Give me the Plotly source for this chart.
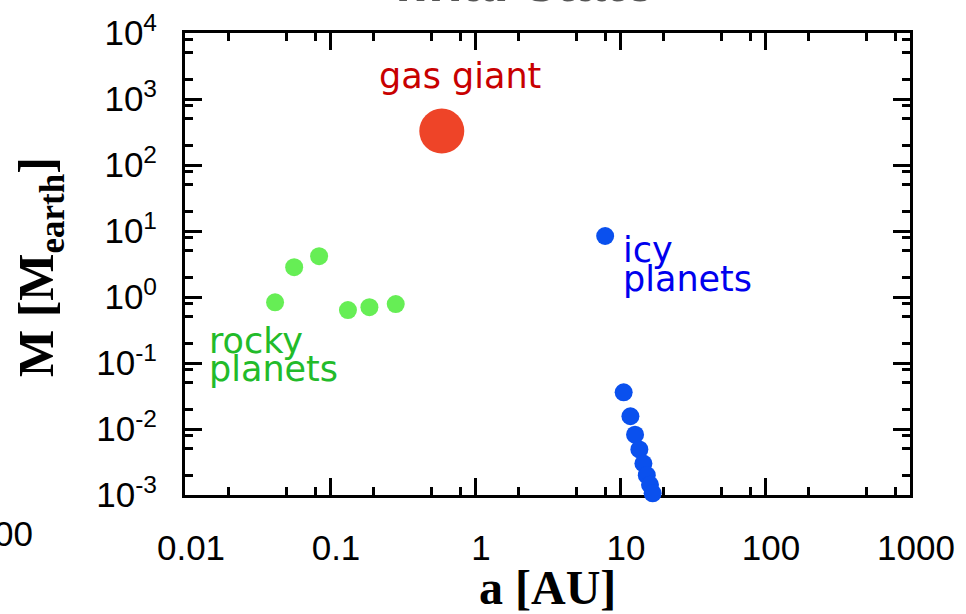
import plotly.graph_objects as go

# ---- data ----
gas_a = [0.59]
gas_m = [327]

rocky_a = [0.0418, 0.0566, 0.0841, 0.133, 0.187, 0.284]
rocky_m = [0.83, 2.83, 4.16, 0.634, 0.70, 0.78]

icy_a = [7.9, 10.6, 11.8, 12.7, 13.6, 14.5, 15.3, 16.1, 16.8]
icy_m = [8.4, 0.036, 0.0156, 0.0082, 0.0049, 0.0030, 0.0020, 0.00143, 0.00106]

x_ticks = [0.01, 0.1, 1, 10, 100, 1000]
x_ticktext = ["0.01", "0.1", "1", "10", "100", "1000"]
y_ticks = [1e-3, 1e-2, 1e-1, 1, 10, 100, 1000, 1e4]
y_ticktext = ["10<sup>-3</sup>", "10<sup>-2</sup>", "10<sup>-1</sup>", "10<sup>0</sup>",
              "10<sup>1</sup>", "10<sup>2</sup>", "10<sup>3</sup>", "10<sup>4</sup>"]
minor_mult = [2, 5, 8]
x_minor = [m * d for d in [0.01, 0.1, 1, 10, 100] for m in minor_mult]
y_minor = [m * d for d in [1e-3, 1e-2, 1e-1, 1, 10, 100, 1000] for m in minor_mult]

fig = go.Figure()
fig.add_trace(go.Scatter(x=rocky_a, y=rocky_m, mode="markers",
                         marker=dict(size=18, color="#66ee55", line=dict(width=0)),
                         cliponaxis=False, showlegend=False))
fig.add_trace(go.Scatter(x=icy_a, y=icy_m, mode="markers",
                         marker=dict(size=18, color="#0a50ee", line=dict(width=0)),
                         cliponaxis=False, showlegend=False))
fig.add_trace(go.Scatter(x=gas_a, y=gas_m, mode="markers",
                         marker=dict(size=45, color="#ee4428", line=dict(width=0)),
                         cliponaxis=False, showlegend=False))

axis_common = dict(
    type="log", showgrid=False, zeroline=False,
    showline=True, linecolor="black", linewidth=3, mirror="allticks",
    ticks="inside", ticklen=17, tickwidth=3, tickcolor="black",
    tickfont=dict(family="Liberation Sans", size=35, color="black"),
    layer="below traces",
)

fig.update_xaxes(**axis_common, range=[-2, 3], tickmode="array",
                 tickvals=x_ticks, ticktext=x_ticktext,
                 ticklabelstandoff=20, ticklabelshift=6,
                 minor=dict(tickmode="array", tickvals=x_minor, ticks="inside",
                            ticklen=8, tickwidth=3, tickcolor="black"))
fig.update_yaxes(**axis_common, range=[-3, 4], tickmode="array",
                 tickvals=y_ticks, ticktext=y_ticktext,
                 ticklabelstandoff=18,
                 minor=dict(tickmode="array", tickvals=y_minor, ticks="inside",
                            ticklen=8, tickwidth=3, tickcolor="black"))

W, H = 966, 614
L, R, T, B = 185, 56, 33, 119
pw, ph = W - L - R, H - T - B


def px(xp):
    return (xp - L) / pw


def py(yp):
    return (H - B - yp) / ph


lab_font = "DejaVu Sans"
anns = [
    dict(text="gas giant", x=px(460), y=py(76), xanchor="center", color="#c80000"),
    dict(text="rocky", x=px(207), y=py(341), xanchor="left", color="#22bb2a"),
    dict(text="planets", x=px(207), y=py(369), xanchor="left", color="#22bb2a"),
    dict(text="icy", x=px(621), y=py(250), xanchor="left", color="#0000ee"),
    dict(text="planets", x=px(621), y=py(279), xanchor="left", color="#0000ee"),
]
for a in anns:
    fig.add_annotation(text=a["text"], x=a["x"], y=a["y"], xref="paper", yref="paper",
                       xanchor=a["xanchor"], yanchor="middle", showarrow=False,
                       font=dict(family=lab_font, size=35, color=a["color"]))

# axis titles
fig.add_annotation(text="a [AU]", x=px(547), y=py(587), xref="paper", yref="paper",
                   xanchor="center", yanchor="middle", showarrow=False,
                   font=dict(family="Liberation Serif", size=48, color="black", weight="bold"))
fig.add_annotation(text="M [M<sub>earth</sub>]", x=px(40), y=py(267), xref="paper", yref="paper",
                   xanchor="center", yanchor="middle", showarrow=False, textangle=-90,
                   font=dict(family="Liberation Serif", size=50, color="black", weight="bold"))

# cropped panel title and neighbouring label
fig.add_annotation(text="final state", x=px(524), y=py(-18), xref="paper", yref="paper",
                   xanchor="center", yanchor="middle", showarrow=False,
                   font=dict(family="Liberation Sans", size=56, color="#555555", weight="bold"))
fig.add_annotation(text="1000", x=px(35), y=py(533), xref="paper", yref="paper",
                   xanchor="right", yanchor="middle", showarrow=False,
                   font=dict(family="Liberation Sans", size=35, color="black"))

fig.update_layout(width=W, height=H, margin=dict(l=L, r=R, t=T, b=B, autoexpand=False),
                  paper_bgcolor="white", plot_bgcolor="white")

fig.write_html("out.html", config={"displayModeBar": False},
               post_script="document.body.style.margin='0';document.body.style.overflow='hidden';")
